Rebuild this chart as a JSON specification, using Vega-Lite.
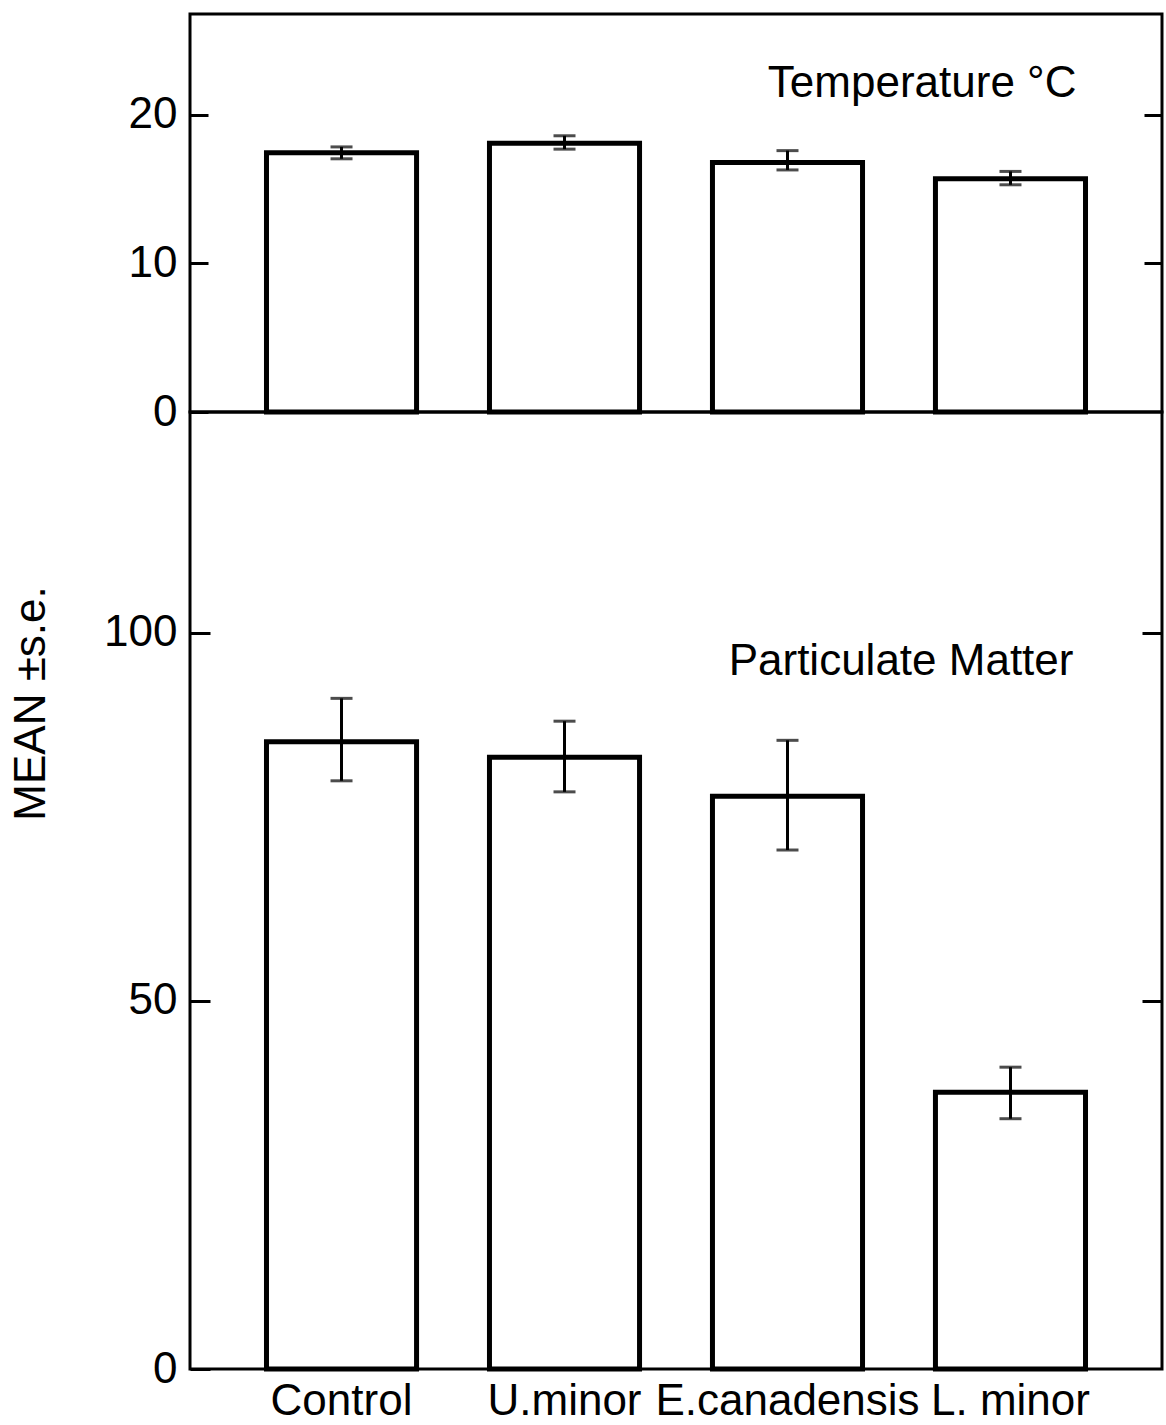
{
  "$schema": "https://vega.github.io/schema/vega-lite/v6.json",
  "padding": {"left": 7, "top": 12, "right": 0, "bottom": 0},
  "background": "white",
  "bounds": "flush",
  "config": {
    "font": "Liberation Sans",
    "view": {"stroke": "black", "strokeWidth": 3},
    "axis": {"labelFont": "Liberation Sans", "titleFont": "Liberation Sans", "labelColor": "black", "titleColor": "black", "tickColor": "black", "domainColor": "black", "grid": false}
  },
  "datasets": {
    "temp": [
      {"group": "Control", "mean": 17.45, "lo": 17.05, "hi": 17.85},
      {"group": "U.minor", "mean": 18.1, "lo": 17.7, "hi": 18.6},
      {"group": "E.canadensis", "mean": 16.8, "lo": 16.3, "hi": 17.6},
      {"group": "L. minor", "mean": 15.7, "lo": 15.3, "hi": 16.2}
    ],
    "pm": [
      {"group": "Control", "mean": 85.2, "lo": 79.9, "hi": 91.1},
      {"group": "U.minor", "mean": 83.1, "lo": 78.4, "hi": 88.0},
      {"group": "E.canadensis", "mean": 77.8, "lo": 70.5, "hi": 85.4},
      {"group": "L. minor", "mean": 37.6, "lo": 34.0, "hi": 41.0}
    ],
    "tempLabel": [{"label": "Temperature °C"}],
    "pmLabel": [{"label": "Particulate Matter"}]
  },
  "spacing": 0,
  "vconcat": [
    {
      "data": {"name": "temp"},
      "width": 972,
      "height": 398,
      "layer": [
        {
          "layer": [
            {
              "mark": {"type": "bar", "fill": "white", "stroke": "black", "strokeWidth": 5},
              "encoding": {
                "x": {"field": "group", "type": "nominal", "sort": null, "scale": {"paddingInner": 0.327, "paddingOuter": 0.343}, "axis": null},
                "y": {"field": "mean", "type": "quantitative", "scale": {"domain": [0, 26.8], "nice": false, "zero": true}, "axis": {"orient": "left", "values": [0, 10, 20], "tickSize": -18, "tickWidth": 3, "domain": false, "labelFontSize": 44, "labelPadding": 31, "title": null}}
              }
            },
            {
              "mark": {"type": "errorbar", "color": "black", "ticks": {"size": 22, "thickness": 3, "color": "black"}, "rule": {"strokeWidth": 3, "color": "black"}},
              "encoding": {
                "x": {"field": "group", "type": "nominal", "sort": null, "scale": {"paddingInner": 0.327, "paddingOuter": 0.343}, "axis": null},
                "y": {"field": "lo", "type": "quantitative", "scale": {"domain": [0, 26.8], "nice": false, "zero": true}, "axis": {"orient": "left", "values": [0, 10, 20], "tickSize": -18, "tickWidth": 3, "domain": false, "labelFontSize": 44, "labelPadding": 31, "title": null}},
                "y2": {"field": "hi"}
              }
            },
            {
              "data": {"name": "tempLabel"},
              "mark": {"type": "text", "fontSize": 44, "align": "right", "baseline": "alphabetic", "dx": 66, "color": "black"},
              "encoding": {
                "text": {"field": "label"},
                "x": {"datum": "L. minor", "type": "nominal", "scale": {"paddingInner": 0.327, "paddingOuter": 0.343}, "axis": null},
                "y": {"datum": 21.2, "type": "quantitative"}
              }
            }
          ]
        },
        {
          "mark": {"type": "point", "opacity": 0},
          "encoding": {
            "x": {"field": "group", "type": "nominal", "sort": null, "scale": {"paddingInner": 0.327, "paddingOuter": 0.343}, "axis": null},
            "y": {"field": "mean", "type": "quantitative", "scale": {"domain": [0, 26.8], "nice": false, "zero": true}, "axis": {"orient": "right", "values": [10, 20], "labels": false, "tickSize": -18, "tickWidth": 3, "domain": false, "title": null}}
          }
        }
      ],
      "resolve": {"scale": {"y": "independent"}}
    },
    {
      "data": {"name": "pm"},
      "width": 972,
      "height": 957,
      "layer": [
        {
          "layer": [
            {
              "mark": {"type": "bar", "fill": "white", "stroke": "black", "strokeWidth": 5},
              "encoding": {
                "x": {"field": "group", "type": "nominal", "sort": null, "scale": {"paddingInner": 0.327, "paddingOuter": 0.343}, "axis": {"orient": "bottom", "labelFontSize": 44, "labelAngle": 0, "labelLimit": 500, "ticks": false, "domain": false, "labelPadding": 10, "title": null}},
                "y": {"field": "mean", "type": "quantitative", "scale": {"domain": [0, 130], "nice": false, "zero": true}, "axis": {"orient": "left", "values": [0, 50, 100], "tickSize": -20, "tickWidth": 3, "domain": false, "labelFontSize": 44, "labelPadding": 33, "title": "MEAN  ±s.e.", "titleFontSize": 44, "titleFontWeight": "normal", "titleAngle": 270, "titleX": -159, "titleY": 291, "titleAlign": "center", "titleBaseline": "middle"}}
              }
            },
            {
              "mark": {"type": "errorbar", "color": "black", "ticks": {"size": 22, "thickness": 3, "color": "black"}, "rule": {"strokeWidth": 3, "color": "black"}},
              "encoding": {
                "x": {"field": "group", "type": "nominal", "sort": null, "scale": {"paddingInner": 0.327, "paddingOuter": 0.343}, "axis": {"orient": "bottom", "labelFontSize": 44, "labelAngle": 0, "labelLimit": 500, "ticks": false, "domain": false, "labelPadding": 10, "title": null}},
                "y": {"field": "lo", "type": "quantitative", "scale": {"domain": [0, 130], "nice": false, "zero": true}, "axis": {"orient": "left", "values": [0, 50, 100], "tickSize": -20, "tickWidth": 3, "domain": false, "labelFontSize": 44, "labelPadding": 33, "title": "MEAN  ±s.e.", "titleFontSize": 44, "titleFontWeight": "normal", "titleAngle": 270, "titleX": -159, "titleY": 291, "titleAlign": "center", "titleBaseline": "middle"}},
                "y2": {"field": "hi"}
              }
            },
            {
              "data": {"name": "pmLabel"},
              "mark": {"type": "text", "fontSize": 44, "align": "right", "baseline": "alphabetic", "dx": 63, "color": "black"},
              "encoding": {
                "text": {"field": "label"},
                "x": {"datum": "L. minor", "type": "nominal", "scale": {"paddingInner": 0.327, "paddingOuter": 0.343}, "axis": {"orient": "bottom", "labelFontSize": 44, "labelAngle": 0, "labelLimit": 500, "ticks": false, "domain": false, "labelPadding": 10, "title": null}},
                "y": {"datum": 94.3, "type": "quantitative"}
              }
            }
          ]
        },
        {
          "mark": {"type": "point", "opacity": 0},
          "encoding": {
            "x": {"field": "group", "type": "nominal", "sort": null, "scale": {"paddingInner": 0.327, "paddingOuter": 0.343}, "axis": {"orient": "bottom", "labelFontSize": 44, "labelAngle": 0, "labelLimit": 500, "ticks": false, "domain": false, "labelPadding": 10, "title": null}},
            "y": {"field": "mean", "type": "quantitative", "scale": {"domain": [0, 130], "nice": false, "zero": true}, "axis": {"orient": "right", "values": [50, 100], "labels": false, "tickSize": -20, "tickWidth": 3, "domain": false, "title": null}}
          }
        }
      ],
      "resolve": {"scale": {"y": "independent"}}
    }
  ]
}
